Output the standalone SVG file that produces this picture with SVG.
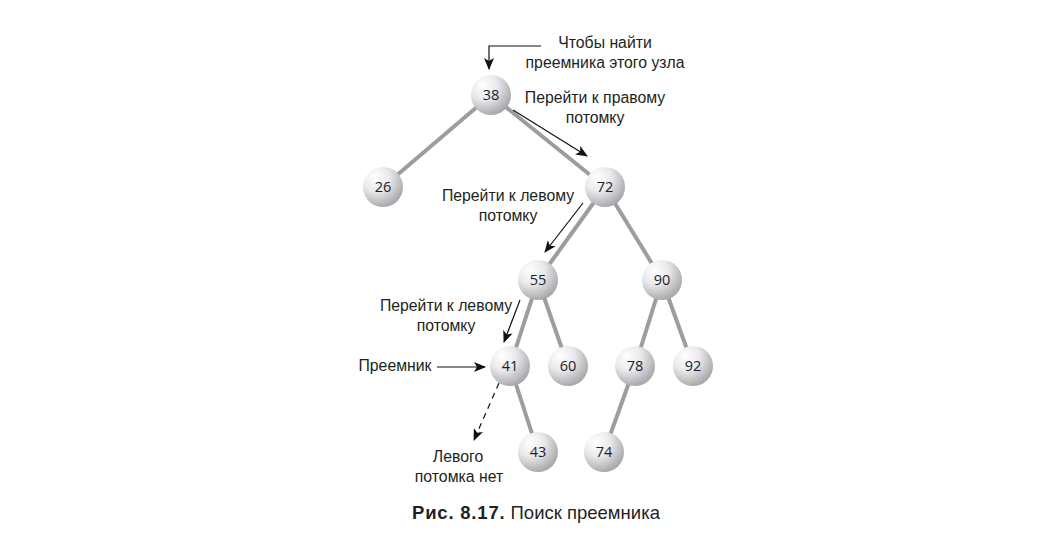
<svg xmlns="http://www.w3.org/2000/svg" width="1039" height="537" viewBox="0 0 1039 537">
<defs>
<radialGradient id="ball" cx="0.35" cy="0.3" r="0.75" fx="0.3" fy="0.25">
<stop offset="0" stop-color="#ffffff"/>
<stop offset="0.45" stop-color="#eaeaec"/>
<stop offset="1" stop-color="#a4a4a8"/>
</radialGradient>
<marker id="ah" viewBox="0 0 12 10" refX="11" refY="5" markerWidth="12" markerHeight="10" markerUnits="userSpaceOnUse" orient="auto">
<path d="M0,0 L12,5 L0,10 L3,5 Z" fill="#111"/>
</marker>
</defs>
<style>
.edge{stroke:#9d9d9d;stroke-width:4;fill:none}
.arr{stroke:#111;stroke-width:1.2;fill:none;marker-end:url(#ah)}
.dash{stroke-dasharray:6,5}
.node circle{fill:url(#ball)}
.node text{font-family:"Open Sans","DejaVu Sans",sans-serif;font-size:14.5px;fill:#1c1c30;text-anchor:middle}
.lbl{font-family:"Liberation Sans",Arial,sans-serif;font-size:15.8px;fill:#231f20;text-anchor:middle}
.cap{font-family:"Liberation Sans",Arial,sans-serif;font-size:18.5px;fill:#231f20}
</style>
<rect width="1039" height="537" fill="#fff"/>
<g id="edges">
<line class="edge" x1="491" y1="95" x2="383" y2="187"/>
<line class="edge" x1="491" y1="95" x2="605" y2="187"/>
<line class="edge" x1="605" y1="187" x2="538" y2="280"/>
<line class="edge" x1="605" y1="187" x2="662" y2="280"/>
<line class="edge" x1="538" y1="280" x2="510" y2="366"/>
<line class="edge" x1="538" y1="280" x2="568" y2="366"/>
<line class="edge" x1="662" y1="280" x2="635" y2="366"/>
<line class="edge" x1="662" y1="280" x2="693" y2="366"/>
<line class="edge" x1="510" y1="366" x2="538" y2="452"/>
<line class="edge" x1="635" y1="366" x2="604" y2="452"/>
</g>
<g id="connectors">
<polyline class="arr" points="541,46 489,46 489,69"/>
<line class="arr" x1="513" y1="110" x2="587" y2="156"/>
<line class="arr" x1="583" y1="203" x2="545" y2="252"/>
<line class="arr" x1="520" y1="300" x2="504" y2="342"/>
<line class="arr" x1="437" y1="367" x2="485" y2="367"/>
<line class="arr dash" x1="499" y1="383" x2="474" y2="440"/>
</g>
<g id="n38" class="node"><circle cx="491" cy="95" r="20"/><text x="491" y="100">38</text></g>
<g id="n26" class="node"><circle cx="383" cy="187" r="20"/><text x="383" y="192">26</text></g>
<g id="n72" class="node"><circle cx="605" cy="187" r="20"/><text x="605" y="192">72</text></g>
<g id="n55" class="node"><circle cx="538" cy="280" r="20"/><text x="538" y="285">55</text></g>
<g id="n90" class="node"><circle cx="662" cy="280" r="20"/><text x="662" y="285">90</text></g>
<g id="n41" class="node"><circle cx="510" cy="366" r="20"/><text x="510" y="371">41</text></g>
<g id="n60" class="node"><circle cx="568" cy="366" r="20"/><text x="568" y="371">60</text></g>
<g id="n78" class="node"><circle cx="635" cy="366" r="20"/><text x="635" y="371">78</text></g>
<g id="n92" class="node"><circle cx="693" cy="366" r="20"/><text x="693" y="371">92</text></g>
<g id="n43" class="node"><circle cx="538" cy="452" r="20"/><text x="538" y="457">43</text></g>
<g id="n74" class="node"><circle cx="604" cy="452" r="20"/><text x="604" y="457">74</text></g>
<g id="labels">
<text class="lbl" x="605" y="48">Чтобы найти</text>
<text class="lbl" x="605" y="68">преемника этого узла</text>
<text class="lbl" x="595" y="103">Перейти к правому</text>
<text class="lbl" x="595" y="123">потомку</text>
<text class="lbl" x="508" y="201">Перейти к левому</text>
<text class="lbl" x="508" y="221">потомку</text>
<text class="lbl" x="446" y="311">Перейти к левому</text>
<text class="lbl" x="446" y="331">потомку</text>
<text class="lbl" x="395" y="371">Преемник</text>
<text class="lbl" x="458" y="462">Левого</text>
<text class="lbl" x="459" y="482">потомка нет</text>
<text class="cap" x="412" y="519"><tspan font-weight="bold" letter-spacing="0.8">Рис. 8.17.</tspan> Поиск преемника</text>
</g>
</svg>
